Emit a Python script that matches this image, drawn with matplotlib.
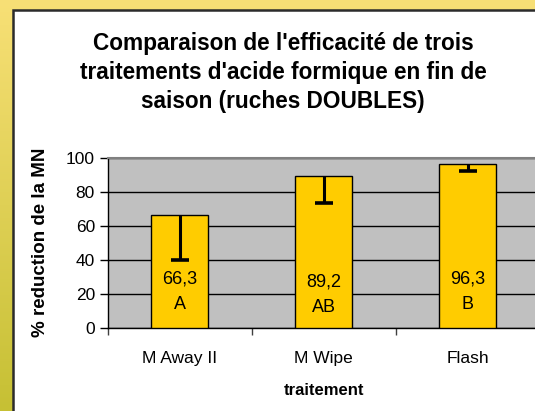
import numpy as np
import matplotlib
matplotlib.use("Agg")
import matplotlib.pyplot as plt
from matplotlib.patches import Rectangle

plt.rcParams['font.family'] = ['Liberation Sans', 'DejaVu Sans']

# data
traitements = ["M Away II", "M Wipe", "Flash"]
reduction = [66.3, 89.2, 96.3]
erreur_moins = [26.3, 16.0, 4.5]
groupes = ["A", "AB", "B"]
label_y = [21.0, 19.3, 21.0]   # position of the value labels inside the bars

titre = ("Comparaison de l'efficacité de trois\n"
         "traitements d'acide formique en fin de\n"
         "saison (ruches DOUBLES)")

W, H = 535, 411
fig = plt.figure(figsize=(W / 100, H / 100), dpi=100)

# yellow gradient background
bg = fig.add_axes([0, 0, 1, 1], zorder=-10)
top_c = np.array([248, 224, 118]) / 255
bot_c = np.array([198, 192, 52]) / 255
t = np.linspace(0, 1, 256)[:, None]
grad = (top_c * (1 - t) + bot_c * t)[:, None, :]
bg.imshow(grad, aspect='auto', extent=[0, 1, 0, 1])
bg.axis('off')

# white panel with dark border
fig.patches.append(Rectangle((12.5 / W, -0.05), 1.1, (H - 10.5) / H + 0.05,
                             transform=fig.transFigure, facecolor='white',
                             edgecolor='#2b2b2b', linewidth=1.8, zorder=-5))

x0, x1 = 107.5, 539.7
y0, y1 = 327.5, 157.5
ax = fig.add_axes([x0 / W, (H - y0) / H, (x1 - x0) / W, (y0 - y1) / H])
ax.set_facecolor('#c0c0c0')

pos = np.arange(len(traitements)) + 0.5
ax.bar(pos, reduction, width=0.4, color='#ffcc00', edgecolor='black',
       linewidth=1.0, zorder=3)

# minus-only error bars (Excel style: cap only at the lower end)
bas = np.array(reduction) - np.array(erreur_moins)
ax.vlines(pos, bas, reduction, color='black', linewidth=2.2, zorder=4)
ax.plot(pos, bas, linestyle='none', marker='_', markersize=13,
        markeredgewidth=2.6, color='black', zorder=4)

for x, v, g, ly in zip(pos, reduction, groupes, label_y):
    ax.text(x, ly, f"{v:.1f}".replace('.', ',') + "\n" + g, ha='center',
            va='center', fontsize=13, linespacing=1.65, zorder=5)

ax.set_xlim(0, 3)
ax.set_ylim(0, 100)
ax.set_yticks([0, 20, 40, 60, 80, 100])
ax.yaxis.grid(True, color='black', linewidth=1.0, zorder=0)
ax.set_axisbelow(True)
ax.set_xticks([0, 1, 2, 3])
ax.set_xticklabels([])
ax.set_xticks(pos, minor=True)
ax.set_xticklabels(traitements, minor=True, fontsize=12.5)
ax.tick_params(axis='x', which='minor', length=0, pad=17)
ax.tick_params(axis='x', which='major', length=5, width=1, color='#404040')
ax.tick_params(axis='y', length=6, width=1, labelsize=12.5, pad=3)

for s in ['left', 'bottom']:
    ax.spines[s].set_color('black')
    ax.spines[s].set_linewidth(1.0)
ax.spines['top'].set_color('#808080')
ax.spines['top'].set_linewidth(1.5)
ax.spines['right'].set_visible(False)

ax.set_xlabel("traitement", fontsize=12, fontweight='bold', labelpad=12)
fig.text(41 / W, 1 - 242 / H, "% reduction de la MN", rotation=90,
         ha='center', va='center', fontsize=13.5, fontweight='bold')

fig.text(283 / W, 1 - 72.5 / H, titre, ha='center', va='center',
         fontsize=16.3, fontweight='bold', linespacing=1.36)

fig.savefig("out.png", dpi=100)
